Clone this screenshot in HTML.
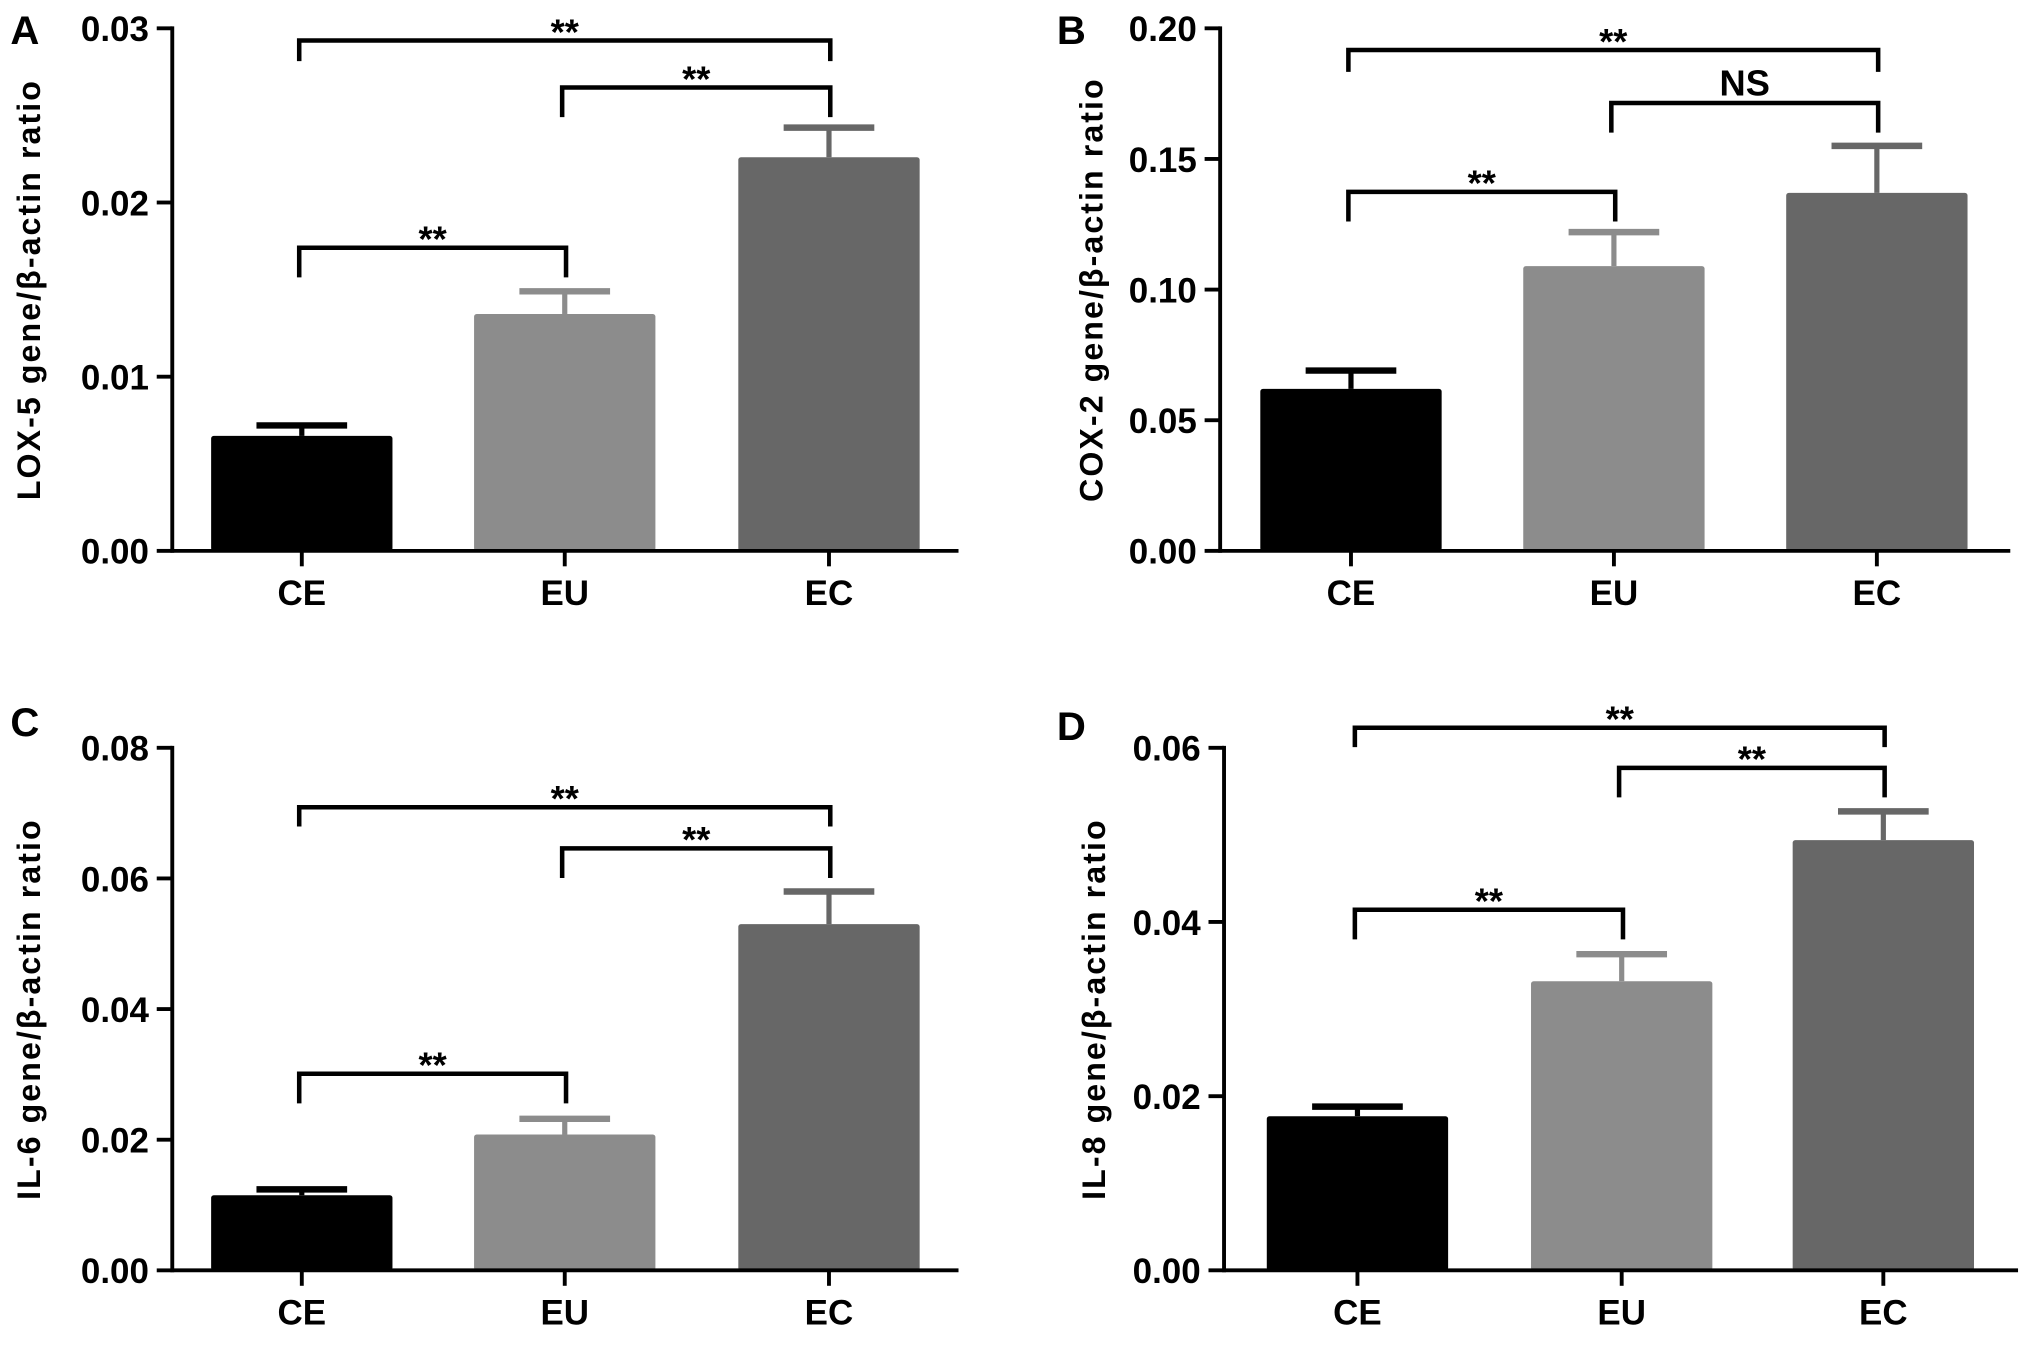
<!DOCTYPE html>
<html><head><meta charset="utf-8">
<style>
html,body{margin:0;padding:0;background:#fff;}
svg{display:block;}
text{font-family:"Liberation Sans",sans-serif;font-weight:bold;fill:#000;}
.tick{font-family:"Liberation Sans Narrow","Liberation Sans",sans-serif;font-size:27px;}
.cat{font-family:"Liberation Sans Narrow","Liberation Sans",sans-serif;font-size:27px;}
.ylab{font-size:25px;letter-spacing:1.6px;}
.panel{font-size:31px;}
.sig{font-family:"Liberation Sans Narrow","Liberation Sans",sans-serif;font-size:28px;}
</style></head>
<body>
<svg id="fig" width="2031" height="1345" viewBox="0 0 1568 1045" preserveAspectRatio="none" xmlns="http://www.w3.org/2000/svg"></svg>
<script>
const categories = ["CE","EU","EC"];
const barColors = ["#000000","#8c8c8c","#676767"];
const lox5Values = [0.0066,0.0136,0.0226];
const lox5Errors = [0.0006,0.0013,0.0017];
const lox5Ticks = ["0.00","0.01","0.02","0.03"];
const cox2Values = [0.062,0.109,0.137];
const cox2Errors = [0.007,0.013,0.018];
const cox2Ticks = ["0.00","0.05","0.10","0.15","0.20"];
const il6Values = [0.0115,0.0208,0.0530];
const il6Errors = [0.0009,0.0024,0.0050];
const il6Ticks = ["0.00","0.02","0.04","0.06","0.08"];
const il8Values = [0.0177,0.0332,0.0494];
const il8Errors = [0.0011,0.0031,0.0033];
const il8Ticks = ["0.00","0.02","0.04","0.06"];
// brackets: [fromIndex, toIndex, barValue, label]
const lox5Brackets = [[0,2,0.0293,"**"],[1,2,0.0266,"**"],[0,1,0.0174,"**"]];
const cox2Brackets = [[0,2,0.1917,"**"],[1,2,0.1714,"NS"],[0,1,0.1374,"**"]];
const il6Brackets = [[0,2,0.0709,"**"],[1,2,0.0646,"**"],[0,1,0.0301,"**"]];
const il8Brackets = [[0,2,0.0623,"**"],[1,2,0.0577,"**"],[0,1,0.0414,"**"]];

const panels = [
 {id:"a",letter:"A",lx:8,ly:34,ax:133,top:22,bottom:428,right:740,max:0.03,ticks:lox5Ticks,values:lox5Values,errors:lox5Errors,brackets:lox5Brackets,label:"LOX-5 gene/β-actin ratio",labx:31,cx:[233,436,640],drop:[16,23,23]},
 {id:"b",letter:"B",lx:816,ly:34,ax:942,top:22,bottom:428,right:1552,max:0.20,ticks:cox2Ticks,values:cox2Values,errors:cox2Errors,brackets:cox2Brackets,label:"COX-2 gene/β-actin ratio",labx:851,cx:[1043,1246,1449],drop:[17,23,23]},
 {id:"c",letter:"C",lx:8,ly:572,ax:133,top:581,bottom:987,right:740,max:0.08,ticks:il6Ticks,values:il6Values,errors:il6Errors,brackets:il6Brackets,label:"IL-6 gene/β-actin ratio",labx:31,cx:[233,436,640],drop:[15,23,23]},
 {id:"d",letter:"D",lx:816,ly:575,ax:945,top:581,bottom:987,right:1558,max:0.06,ticks:il8Ticks,values:il8Values,errors:il8Errors,brackets:il8Brackets,label:"IL-8 gene/β-actin ratio",labx:853,cx:[1048,1252,1454],drop:[15,23,23]}
];
const NS="http://www.w3.org/2000/svg";
const svg=document.getElementById("fig");
function mk(tag,attrs,parent,txt){const e=document.createElementNS(NS,tag);for(const k in attrs)e.setAttribute(k,attrs[k]);if(txt!==undefined)e.textContent=txt;parent.appendChild(e);return e;}
panels.forEach(p=>{
 const g=mk("g",{},svg);
 
 
 const y=v=>p.bottom-(v/p.max)*(p.bottom-p.top);
 const lt=mk("text",{x:p.lx,y:p.ly,class:"panel"},g,p.letter);
 
 
 categories.forEach((c,i)=>{
  const bw=140, x0=p.cx[i]-bw/2, top=y(p.values[i]), et=y(p.values[i]+p.errors[i]);
  const col=barColors[i];
  const eb=mk("line",{x1:p.cx[i],x2:p.cx[i],y1:top,y2:et,stroke:col,"stroke-width":4},g);
  
  
  const cap=mk("line",{x1:p.cx[i]-35,x2:p.cx[i]+35,y1:et,y2:et,stroke:col,"stroke-width":5},g);
  
  
  const r=mk("rect",{x:x0,y:top,width:bw,height:p.bottom-top,fill:col,rx:2},g);
  
  
  const tk=mk("line",{x1:p.cx[i],x2:p.cx[i],y1:p.bottom,y2:p.bottom+12,stroke:"#000","stroke-width":3},g);
  
  
  const lb=mk("text",{x:p.cx[i],y:p.bottom+42,"text-anchor":"middle",class:"cat"},g,c);
  
  
 });
 const ya=mk("line",{x1:p.ax,x2:p.ax,y1:p.top-1.5,y2:p.bottom+1.5,stroke:"#000","stroke-width":3},g);
 
 
 const xa=mk("line",{x1:p.ax,x2:p.right,y1:p.bottom,y2:p.bottom,stroke:"#000","stroke-width":3},g);
 
 
 p.ticks.forEach((t,i)=>{
  const v=p.max*i/(p.ticks.length-1), yy=y(v);
  const tl=mk("line",{x1:p.ax-12,x2:p.ax,y1:yy,y2:yy,stroke:"#000","stroke-width":3},g);
  
  
  const tt=mk("text",{x:p.ax-18,y:yy+10,"text-anchor":"end",class:"tick"},g,t);
  
  
 });
 const yl=mk("text",{x:p.labx,y:(p.top+p.bottom)/2,"text-anchor":"middle",class:"ylab",transform:`rotate(-90 ${p.labx} ${(p.top+p.bottom)/2})`},g,p.label);
 
 
 p.brackets.forEach((b,k)=>{
  const x1=p.cx[b[0]]-2, x2=p.cx[b[1]]+1, yy=y(b[2]), d=p.drop[k];
  const label=b[3];
  const br=mk("path",{d:`M${x1},${yy+d} V${yy} H${x2} V${yy+d}`,fill:"none",stroke:"#000","stroke-width":3.5},g);
  
  
  const st=mk("text",{x:(x1+x2)/2,y:label==="NS"?yy-6:yy+3,"text-anchor":"middle",class:"sig"},g,label);
  
  
 });
});
</script>
</body></html>
